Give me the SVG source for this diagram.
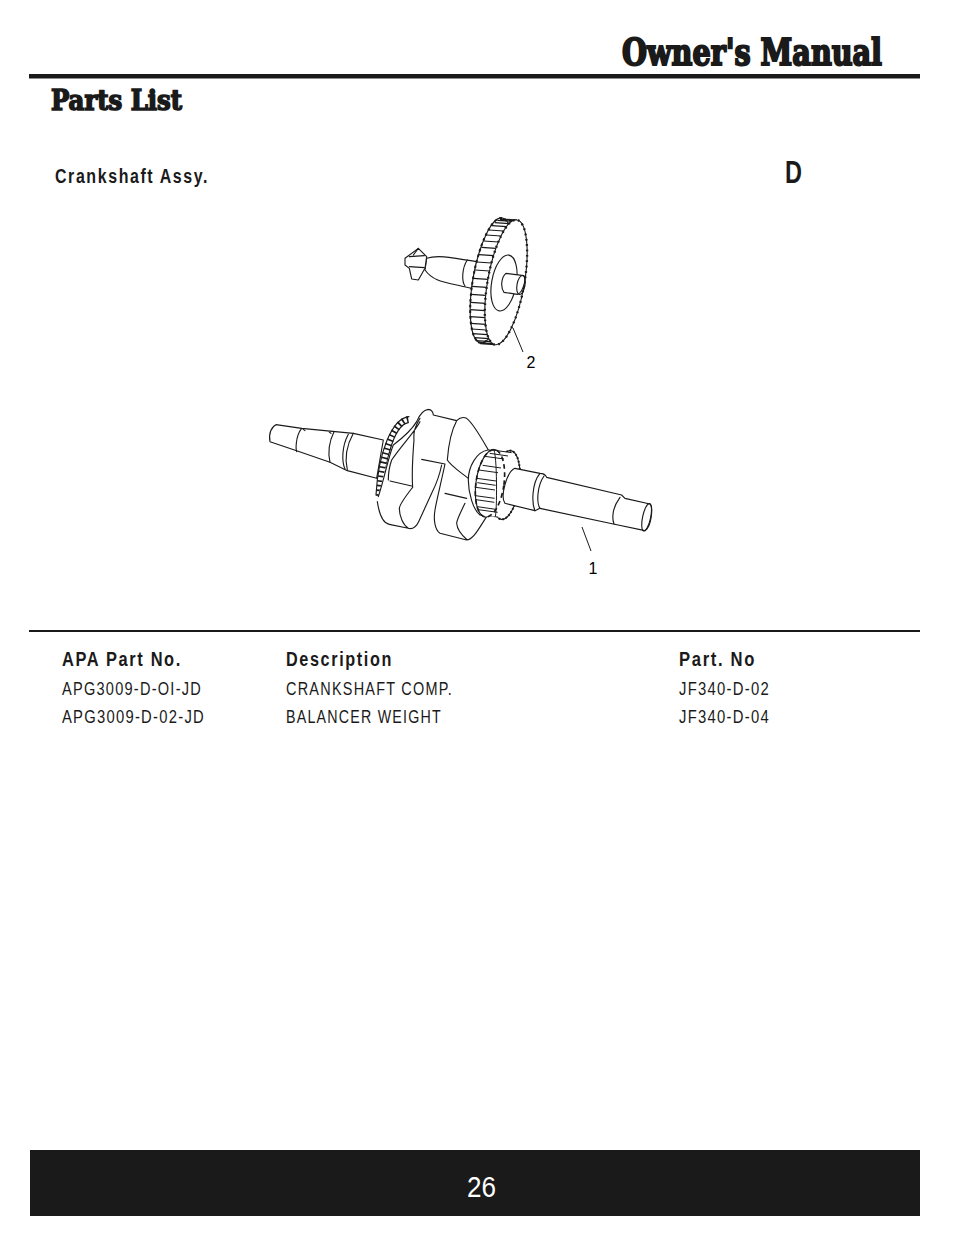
<svg xmlns="http://www.w3.org/2000/svg" width="954" height="1235" viewBox="0 0 954 1235">
<style>
.slab{font-family:"DejaVu Serif Condensed","DejaVu Serif",serif;font-weight:bold;fill:#1a1a1a;stroke:#1a1a1a}
.n{font-family:"Liberation Sans",sans-serif;fill:#1a1a1a}
.h{font-size:20px;font-weight:bold;letter-spacing:2px}
.r{font-size:17.5px;letter-spacing:1.5px}
.l{fill:none;stroke:#1a1a1a;stroke-width:3.4;stroke-linecap:round;stroke-linejoin:round}
.f{fill:#fff;stroke:#1a1a1a;stroke-width:3.4;stroke-linejoin:round}
.lab{font-family:"Liberation Sans",sans-serif;font-size:16px;fill:#000}
</style>
<rect width="954" height="1235" fill="#fff"/>
<g id="header">
<text class="slab" x="622" y="64.500" font-size="37" stroke-width="2" textLength="260" lengthAdjust="spacingAndGlyphs">Owner's Manual</text>
<rect x="29" y="74" width="891" height="4.5" fill="#1a1a1a"/>
<text class="slab" x="51" y="109.500" font-size="28" stroke-width="1.500" textLength="131" lengthAdjust="spacingAndGlyphs">Parts List</text>
<text class="n h" x="55" y="183" textLength="154" lengthAdjust="spacingAndGlyphs">Crankshaft Assy.</text>
<text class="n" x="785" y="183" font-size="31" font-weight="bold" textLength="17" lengthAdjust="spacingAndGlyphs">D</text>
</g>
<g id="part-2" transform="translate(380 205) scale(.3333)">
<path class="f" d="M140 160C170 150 200 155 290 170L275 250C190 230 160 230 135 195Z"/>
<path class="l" d="M262 165C245 190 245 230 255 243"/>
<path class="f" d="M75 160L115 130L140 155L135 190L115 225L95 222L88 190L75 180Z"/>
<path class="l" d="M88 155L133 152M88 185L133 188M100 150L115 130"/>
<ellipse class="f" cx="334" cy="226" rx="55" ry="190" transform="rotate(10 334 226)"/>
<ellipse cx="334" cy="226" rx="55" ry="190" fill="none" stroke="#1a1a1a" stroke-width="6" stroke-dasharray="8 9" transform="rotate(10 334 226)"/>
<path d="M404 46l-44-3M388 56l-44-3M371 78l-44-3M355 111l-44-3M341 152l-44-3M329 198l-44-3M320 247l-44-3M316 295l-44-3M315 338l-44-3M319 375l-44-3M327 401l-44-3M338 416l-44-3M411 45l-44-3M396 49l-44-3M380 65l-44-3M363 93l-44-3M348 130l-44-3M334 174l-44-3M324 223l-44-3M317 271l-44-3M315 317l-44-3M317 358l-44-3M322 389l-44-3M332 410l-44-3M345 419l-44-3" fill="none" stroke="#1a1a1a" stroke-width="3.400"/>
<ellipse class="f" cx="378" cy="232" rx="55" ry="190" transform="rotate(10 378 232)"/>
<ellipse cx="378" cy="232" rx="55" ry="190" fill="none" stroke="#1a1a1a" stroke-width="7" stroke-dasharray="5 11" transform="rotate(10 378 232)"/>
<ellipse class="f" cx="372" cy="234" rx="37" ry="85" transform="rotate(10 372 234)"/>
<path class="f" d="M378 205L432 212C440 230 425 265 412 268L372 262C360 245 365 215 378 205Z"/>
<ellipse class="l" cx="423" cy="240" rx="12" ry="29" transform="rotate(10 423 240)"/>
</g>
<g id="part-1" transform="translate(260 400) scale(.3333)">
<path class="f" d="M48 74L125 85L280 100L370 120L350 235L262 212L210 187L110 152L30 125C25 100 35 80 48 74Z"/>
<path class="l" d="M125 85C105 110 108 150 110 155M222 95C205 130 205 165 210 187M265 103C245 140 245 185 255 207M280 100C258 140 255 180 262 210M130 88L135 92M208 96L213 100"/>
<path d="M445 58C400 65 365 165 358 290" fill="none" stroke="#1a1a1a" stroke-width="20" stroke-dasharray="5 9"/>
<path class="l" d="M447 50C395 55 355 160 348 285M445 68C405 75 375 170 368 290"/>
<path d="M352 300C370 230 385 165 400 135C420 120 455 90 470 65C478 45 490 30 505 28C515 28 520 38 520 45L590 62C600 52 610 50 620 55C640 70 665 115 685 150L690 350C660 380 640 420 620 420L540 400C525 390 520 360 525 330L545 250L476 365C468 382 458 388 445 385L388 373C370 370 358 345 352 305Z" fill="#fff"/>
<path class="l" d="M352 305C358 345 370 370 388 373L445 385C458 388 468 382 476 365L515 280C530 250 540 220 545 195M505 28C490 30 478 45 470 65C455 90 420 120 400 135C385 170 375 230 355 290M480 65C465 95 425 135 395 180C388 200 385 225 385 240M480 55C465 80 460 95 462 120C458 170 455 220 458 262C440 285 420 310 418 325C418 350 430 375 445 385M390 243L455 258M505 28C515 28 520 38 520 45L590 62M485 178L555 192M590 62C600 52 610 50 620 55C640 70 665 115 685 150M590 62C575 90 565 140 562 180C575 200 600 215 625 235M555 192C545 240 530 300 525 330C520 360 525 390 540 400L620 420C640 420 660 380 680 350M555 280L620 295M615 310C600 340 590 360 590 370C592 395 610 410 622 420"/>
<path class="f" d="M684 150C650 155 625 200 625 240C625 280 640 330 660 345L720 350L700 150Z"/>
<ellipse class="f" cx="738" cy="255" rx="40" ry="104" transform="rotate(8 738 255)"/>
<ellipse cx="738" cy="255" rx="40" ry="104" fill="none" stroke="#1a1a1a" stroke-width="6" stroke-dasharray="5 6" transform="rotate(8 738 255)"/>
<ellipse class="f" cx="690" cy="250" rx="42" ry="102" transform="rotate(8 690 250)"/>
<path d="M690 148L750 158L735 350L672 348Z" fill="#fff"/>
<path d="M697 150l58 8M674 169l58 8M656 210l58 8M650 235l58 8M647 262l58 8M646 287l58 8M655 329l58 8M689 160l55 8M668 196l55 8M652 248l55 8M648 299l55 8M652 320l55 8" fill="none" stroke="#1a1a1a" stroke-width="3"/>
<ellipse cx="690" cy="250" rx="42" ry="102" fill="none" stroke="#1a1a1a" stroke-width="5" stroke-dasharray="14 10" transform="rotate(8 690 250)"/>
<path d="M700 148C712 152 712 345 705 352" fill="none" stroke="#1a1a1a" stroke-width="3"/>
<g transform="translate(690 120)">
<path class="f" d="M75 85L150 100C165 100 170 112 170 112L395 165L405 175L480 192C490 200 485 260 465 272L370 252L150 205L135 212L45 190C30 170 50 95 75 85Z"/>
<path class="l" d="M150 100C125 130 125 190 135 212M162 108C140 140 140 190 150 205M390 172C370 200 365 230 372 252"/>
<ellipse class="l" cx="470" cy="232" rx="12" ry="42" transform="rotate(12 470 232)"/>
</g>
</g>
<g id="connectors" fill="none" stroke="#1a1a1a" stroke-width="1">
<path d="M513 328L523 352"/>
<path d="M582 527L591 551"/>
</g>
<g id="callouts">
<text class="lab" x="531" y="368" text-anchor="middle">2</text>
<text class="lab" x="593" y="574" text-anchor="middle">1</text>
</g>
<g id="table">
<rect x="29" y="630" width="891" height="2" fill="#1a1a1a"/>
<text class="n h" x="62" y="666" textLength="120" lengthAdjust="spacingAndGlyphs">APA Part No.</text>
<text class="n h" x="286" y="666" textLength="107" lengthAdjust="spacingAndGlyphs">Description</text>
<text class="n h" x="679" y="666" textLength="77" lengthAdjust="spacingAndGlyphs">Part. No</text>
<text class="n r" x="62" y="695" textLength="140" lengthAdjust="spacingAndGlyphs">APG3009-D-OI-JD</text>
<text class="n r" x="286" y="695" textLength="167" lengthAdjust="spacingAndGlyphs">CRANKSHAFT COMP.</text>
<text class="n r" x="679" y="695" textLength="91" lengthAdjust="spacingAndGlyphs">JF340-D-02</text>
<text class="n r" x="62" y="723" textLength="143" lengthAdjust="spacingAndGlyphs">APG3009-D-02-JD</text>
<text class="n r" x="286" y="723" textLength="156" lengthAdjust="spacingAndGlyphs">BALANCER WEIGHT</text>
<text class="n r" x="679" y="723" textLength="91" lengthAdjust="spacingAndGlyphs">JF340-D-04</text>
</g>
<g id="footer">
<rect x="30" y="1150" width="890" height="66" fill="#1a1a1a"/>
<text class="n" x="467" y="1197" font-size="29" style="fill:#fff" textLength="29" lengthAdjust="spacingAndGlyphs">26</text>
</g>
</svg>
